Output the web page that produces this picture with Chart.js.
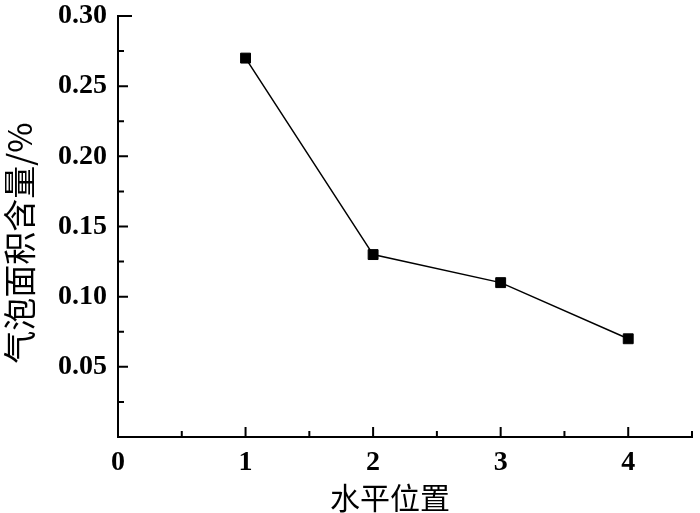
<!DOCTYPE html>
<html>
<head>
<meta charset="utf-8">
<script src="https://cdn.jsdelivr.net/npm/chart.js@4.4.1/dist/chart.umd.min.js"></script>
<style>
html,body{margin:0;padding:0;background:#fff;}
#wrap{width:700px;height:513px;}
</style>
</head>
<body>
<div id="wrap"><canvas id="c" width="700" height="513"></canvas></div>
<script>
const positions = [1, 2, 3, 4];
const bubbleArea = [0.27, 0.13, 0.11, 0.07];
const xTitle = '水平位置';
const yTitle = '气泡面积含量/%';
const xMin = 0, xMax = 4.5, xStep = 0.5;
const yMin = 0, yMax = 0.30, yStep = 0.025, yMajor = 0.05;

const isMult = (v, m) => Math.abs(Math.round(v / m) * m - v) < 1e-9;

const inwardTicks = {
  id: 'inwardTicks',
  afterDraw(chart) {
    const ctx = chart.ctx, a = chart.chartArea;
    const xs = chart.scales.x, ys = chart.scales.y;
    ctx.save();
    ctx.strokeStyle = '#000';
    ctx.lineWidth = 2;
    ctx.beginPath();
    ys.ticks.forEach(t => {
      if (t.value <= yMin + 1e-9) return;
      const p = ys.getPixelForValue(t.value);
      let len = isMult(t.value, yMajor) ? 10 : 6;
      if (Math.abs(t.value - yMax) < 1e-9) len = 14;
      ctx.moveTo(a.left, p); ctx.lineTo(a.left + len, p);
    });
    xs.ticks.forEach(t => {
      if (t.value <= xMin + 1e-9) return;
      const p = xs.getPixelForValue(t.value);
      const len = isMult(t.value, 1) ? 10 : 6;
      ctx.moveTo(p, a.bottom); ctx.lineTo(p, a.bottom - len);
    });
    ctx.stroke();
    ctx.restore();
  }
};

new Chart(document.getElementById('c'), {
  type: 'line',
  data: {
    datasets: [{
      data: positions.map((x, i) => ({x: x, y: bubbleArea[i]})),
      borderColor: '#000',
      borderWidth: 1.5,
      pointStyle: 'rect',
      pointRadius: 7,
      pointBorderWidth: 1,
      pointBackgroundColor: '#000',
      pointBorderColor: '#000',
      tension: 0,
      fill: false
    }]
  },
  options: {
    responsive: false,
    animation: false,
    devicePixelRatio: 1,
    layout: {padding: {top: 16, right: 5, left: 0, bottom: 0}},
    plugins: {legend: {display: false}, tooltip: {enabled: false}},
    scales: {
      x: {
        type: 'linear',
        min: xMin, max: xMax,
        grid: {display: false, drawTicks: false, tickLength: 0},
        border: {display: true, color: '#000', width: 2},
        ticks: {
          stepSize: xStep,
          autoSkip: false,
          maxRotation: 0,
          color: '#000',
          padding: 9,
          font: {family: 'Liberation Serif', size: 28, weight: 'bold'},
          callback: v => isMult(v, 1) ? String(Math.round(v)) : ''
        },
        title: {
          display: true,
          text: xTitle + '\u3000',
          color: '#000',
          font: {family: 'Noto Sans CJK SC', size: 30, lineHeight: 1},
          padding: {top: 0, bottom: 0}
        },
        afterFit: s => { s.height = 76; s.paddingLeft = 0; s.paddingRight = 0; }
      },
      y: {
        type: 'linear',
        min: yMin, max: yMax,
        grid: {display: false, drawTicks: false, tickLength: 0},
        border: {display: true, color: '#000', width: 2},
        ticks: {
          stepSize: yStep,
          autoSkip: false,
          color: '#000',
          padding: 11,
          font: {family: 'Liberation Serif', size: 28, weight: 'bold'},
          callback: v => (v > 1e-9 && isMult(v, yMajor)) ? v.toFixed(2) : ''
        },
        title: {
          display: true,
          text: yTitle + '\u3000',
          color: '#000',
          font: {family: 'Noto Sans CJK SC', size: 33, lineHeight: 1},
          padding: {top: 3, bottom: 0}
        },
        afterFit: s => { s.width = 118; s.paddingTop = 0; s.paddingBottom = 0; }
      }
    }
  },
  plugins: [inwardTicks]
});
</script>
</body>
</html>
